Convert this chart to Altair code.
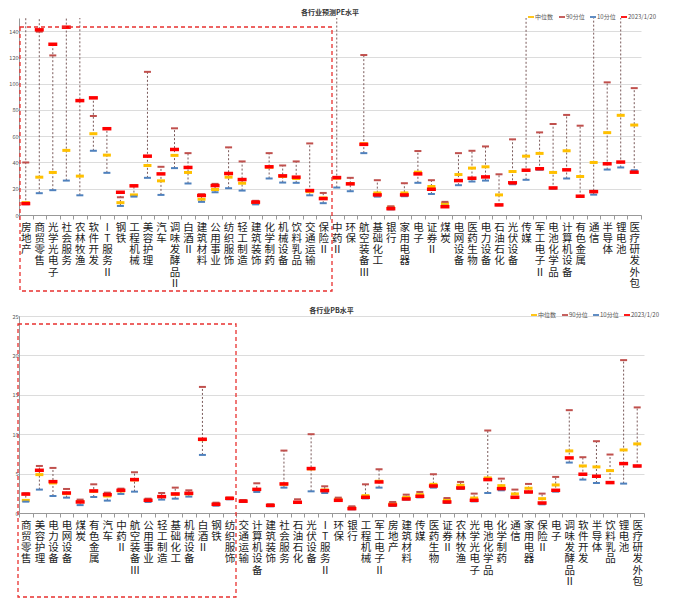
import altair as alt
import pandas as pd

SERIES = ["中位数", "90分位", "10分位", "2023/1/20"]
COLORS = ["#FFC000", "#C0504D", "#4F81BD", "#FF0000"]
FONT = "Noto Sans CJK SC"

# ---------------- PE panel ----------------
pe_cats = ["房地产", "商贸零售", "光学光电子", "社会服务", "农林牧渔", "软件开发", "IT服务Ⅱ", "钢铁",
           "工程机械", "美容护理", "汽车", "调味发酵品Ⅱ", "白酒Ⅱ", "建筑材料", "公用事业", "纺织服饰",
           "轻工制造", "建筑装饰", "化学制药", "机械设备", "饮料乳品", "交通运输", "保险Ⅱ", "中药Ⅱ",
           "环保", "航空装备Ⅲ", "基础化工", "银行", "家用电器", "电子", "证券Ⅱ", "煤炭",
           "电网设备", "医药生物", "电力设备", "石油石化", "光伏设备", "传媒", "军工电子Ⅱ", "电池化学品",
           "计算机设备", "有色金属", "通信", "半导体", "锂电池", "医疗研发外包"]
pe_median = [9.4, 28.8, 32.4, 49.2, 29.6, 61.9, 45.6, 9.4, 15.3, 37.7, 26.0, 45.4, 32.4, 12.0, 19.4, 28.8,
             24.2, 9.0, 36.4, 29.3, 27.8, 17.8, 13.0, 28.0, 24.0, 54.3, 16.8, 5.9, 16.8, 32.6, 21.7, 8.6,
             30.8, 35.7, 36.7, 15.3, 33.1, 44.8, 46.9, 32.4, 48.9, 29.3, 40.0, 62.7, 75.9, 68.5]
pe_p90 = [40.0, 139.6, 121.5, 180.0, 180.0, 75.4, 66.0, 13.5, 22.5, 109.0, 36.7, 66.0, 47.1, 15.8, 23.7, 51.5,
          40.8, 10.8, 47.1, 37.7, 40.8, 54.5, 16.8, 180.0, 28.3, 121.8, 26.5, 6.6, 24.2, 48.7, 26.5, 10.0,
          47.1, 48.9, 52.2, 31.0, 57.6, 180.0, 62.9, 69.3, 76.2, 68.0, 180.0, 101.0, 180.0, 96.6]
pe_p10 = [8.2, 16.6, 18.9, 26.2, 15.0, 48.9, 32.1, 6.9, 14.0, 28.3, 15.3, 35.7, 24.0, 10.0, 17.3, 20.4,
          18.6, 8.1, 27.8, 24.7, 24.5, 15.0, 9.0, 20.9, 18.1, 47.1, 14.0, 4.3, 14.3, 24.5, 16.0, 7.0,
          22.7, 25.5, 26.2, 7.4, 23.4, 26.8, 34.5, 20.0, 27.8, 14.0, 15.5, 34.6, 36.2, 34.1]
pe_current = [8.7, 141.0, 130.0, 143.0, 87.1, 89.2, 65.7, 17.3, 22.2, 44.8, 31.3, 49.9, 36.2, 14.9, 22.4, 31.6,
              27.0, 9.8, 36.7, 29.8, 28.8, 18.6, 12.5, 28.5, 23.7, 53.8, 15.3, 4.8, 15.3, 31.3, 19.6, 6.3,
              26.2, 28.0, 29.0, 7.7, 24.5, 34.1, 35.2, 20.6, 34.4, 14.3, 17.8, 39.0, 40.3, 32.6]
# industries whose dotted range line runs off the top of the PE chart
pe_line_offscale = ["房地产", "商贸零售"]
pe_offscale_value = 180.0

# ---------------- PB panel ----------------
pb_cats = ["商贸零售", "美容护理", "电力设备", "电网设备", "煤炭", "有色金属", "汽车", "中药Ⅱ",
           "航空装备Ⅲ", "公用事业", "轻工制造", "基础化工", "机械设备", "白酒Ⅱ", "钢铁", "纺织服饰",
           "交通运输", "计算机设备", "建筑装饰", "社会服务", "石油石化", "光伏设备", "IT服务Ⅱ", "环保",
           "银行", "工程机械", "军工电子Ⅱ", "房地产", "建筑材料", "传媒", "医药生物", "证券Ⅱ",
           "农林牧渔", "光学光电子", "电池化学品", "化学制药", "通信", "家用电器", "保险Ⅱ", "电子",
           "调味发酵品Ⅱ", "软件开发", "半导体", "饮料乳品", "锂电池", "医疗研发外包"]
pb_median = [1.6, 4.87, 3.81, 2.46, 1.44, 2.75, 2.16, 2.8, 4.2, 1.6, 2.08, 2.37, 2.42, 9.3, 1.12, 1.86,
             1.5, 2.97, 0.97, 3.64, 1.33, 5.6, 2.92, 1.74, 0.68, 2.2, 4.03, 1.23, 1.99, 2.33, 3.64, 1.65,
             3.52, 1.9, 4.45, 3.47, 2.42, 3.14, 1.82, 3.56, 7.88, 5.97, 5.85, 5.38, 8.0, 8.77]
pb_p90 = [2.5, 5.97, 5.72, 3.05, 1.7, 3.64, 2.58, 3.09, 5.17, 1.82, 2.54, 3.22, 2.88, 16.0, 1.31, 1.95,
          1.65, 3.77, 1.1, 7.92, 1.74, 10.0, 3.39, 1.95, 0.85, 3.64, 5.55, 1.4, 2.33, 2.67, 4.92, 1.9,
          3.94, 2.46, 10.47, 4.36, 2.97, 3.69, 2.46, 4.58, 13.05, 7.08, 9.11, 7.42, 19.4, 13.4]
pb_p10 = [1.44, 2.97, 2.16, 1.95, 1.0, 2.03, 1.57, 2.42, 2.71, 1.4, 1.7, 1.82, 2.08, 7.37, 0.93, 1.74,
          1.4, 2.67, 0.85, 3.22, 1.27, 2.75, 2.54, 1.53, 0.47, 1.86, 3.22, 0.89, 1.7, 1.99, 3.22, 1.27,
          3.05, 1.48, 2.54, 2.88, 1.9, 2.6, 1.1, 2.71, 6.4, 4.24, 3.81, 3.8, 3.73, 5.9]
pb_current = [2.4, 5.42, 3.98, 2.54, 1.4, 2.8, 2.33, 2.88, 4.24, 1.61, 2.08, 2.42, 2.5, 9.36, 1.1, 1.86,
              1.5, 3.0, 0.97, 3.69, 1.36, 5.64, 2.84, 1.61, 0.55, 1.99, 3.94, 1.02, 1.78, 2.12, 3.43, 1.4,
              3.18, 1.61, 4.24, 3.09, 1.99, 2.67, 1.27, 2.88, 6.99, 4.92, 4.66, 3.86, 6.27, 5.97]

pe_ticks = [0, 20, 40, 60, 80, 100, 120, 140]
pb_ticks = [0, 5, 10, 15, 20, 25]


def long_table(cats, med, p90, p10, cur):
    rows = []
    for i, c in enumerate(cats):
        for s, v in zip(SERIES, [med[i], p90[i], p10[i], cur[i]]):
            rows.append({"cat": c, "series": s, "value": v})
    return pd.DataFrame(rows)


def range_table(cats, med, p90, p10, cur, offscale=(), off_val=0.0):
    rows = []
    for i, c in enumerate(cats):
        vals = [med[i], p90[i], p10[i], cur[i]]
        hi = max(vals)
        if c in offscale:
            hi = max(hi, off_val)
        rows.append({"cat": c, "lo": min(vals), "hi": hi})
    return pd.DataFrame(rows)


TICK_STYLE = {
    "中位数": dict(thickness=3, size=8),
    "90分位": dict(thickness=2, size=7),
    "10分位": dict(thickness=2, size=7),
    "2023/1/20": dict(thickness=3.5, size=9),
}


def panel(title, cats, long_df, rng_df, ymax, yticks, w, h, box, legend_x):
    xenc = alt.X("cat:N", sort=cats,
                 scale=alt.Scale(type="band", domain=cats, paddingInner=0, paddingOuter=0),
                 axis=alt.Axis(title=None, labelAngle=0, labelBaseline="top", labelAlign="center",
                               labelExpr="split(datum.label, '')", labelLineHeight=11.3,
                               labelFontSize=10.5, labelFont=FONT, labelColor="#1a1a1a",
                               labelOverlap=False, labelPadding=3, labelLimit=0,
                               tickBand="extent", tickSize=4, tickColor="#999",
                               domainColor="#999"))
    yscale = alt.Scale(domain=[0, ymax], nice=False, zero=True)
    yaxis = alt.Axis(title=None, values=yticks, labelFontSize=5.5, grid=True, gridColor="#dcdcdc",
                     domainColor="#999", tickColor="#999", tickSize=1, labelPadding=0,
                     labelColor="#555", labelFont=FONT)

    rule = alt.Chart(rng_df).mark_rule(color="#7a5a5a", strokeDash=[2, 2], strokeWidth=1,
                                       clip=True).encode(
        x=xenc,
        y=alt.Y("lo:Q", scale=yscale, axis=yaxis),
        y2="hi:Q",
    )

    layers = [rule]
    for s in SERIES:
        st = TICK_STYLE[s]
        layers.append(
            alt.Chart(long_df).transform_filter(alt.datum.series == s)
            .mark_tick(thickness=st["thickness"], size=st["size"], clip=True, opacity=1)
            .encode(
                x=xenc,
                y=alt.Y("value:Q", scale=yscale, axis=yaxis),
                color=alt.Color("series:N",
                                scale=alt.Scale(domain=SERIES, range=COLORS),
                                legend=alt.Legend(title=None, orient="none", direction="horizontal",
                                                  legendX=legend_x, legendY=-4,
                                                  symbolType="M-1,-0.3L1,-0.3L1,0.3L-1,0.3Z",
                                                  symbolSize=36, symbolStrokeWidth=0,
                                                  symbolOpacity=1,
                                                  labelFontSize=6, labelFont=FONT,
                                                  labelColor="#555", columnPadding=5,
                                                  labelOffset=1, symbolOffset=0, padding=0)),
            )
        )

    bx0, by0, bx1, by1 = box
    rect = alt.Chart(alt.Data(values=[{"k": 1}])).mark_rect(
        filled=False, stroke="#E8312F", strokeWidth=1.3, strokeDash=[4, 3]
    ).encode(x=alt.value(bx0), x2=alt.value(bx1), y=alt.value(by0), y2=alt.value(by1))
    layers.append(rect)

    return alt.layer(*layers).properties(
        width=w, height=h,
        title=alt.TitleParams(title, fontSize=7, fontWeight="bold", font=FONT, color="#333",
                              offset=-2, anchor="middle"),
    )


pe_long = long_table(pe_cats, pe_median, pe_p90, pe_p10, pe_current)
pe_rng = range_table(pe_cats, pe_median, pe_p90, pe_p10, pe_current, pe_line_offscale, pe_offscale_value)
pb_long = long_table(pb_cats, pb_median, pb_p90, pb_p10, pb_current)
pb_rng = range_table(pb_cats, pb_median, pb_p90, pb_p10, pb_current)

top = panel("各行业预测PE水平", pe_cats, pe_long, pe_rng, 150, pe_ticks, 622, 197,
            (1, 9, 313, 273), 509)
bottom = panel("各行业PB水平", pb_cats, pb_long, pb_rng, 25, pb_ticks, 625, 197,
               (-1, 8, 217, 281), 512)

chart = alt.vconcat(top, bottom, spacing=15).resolve_scale(
    color="independent", x="independent", y="independent"
).resolve_legend(color="independent").properties(
    padding={"left": 0, "top": 1, "right": 0, "bottom": 0}
).configure_view(stroke=None)

chart.save("out.html", embed_options={"renderer": "svg", "actions": False})
